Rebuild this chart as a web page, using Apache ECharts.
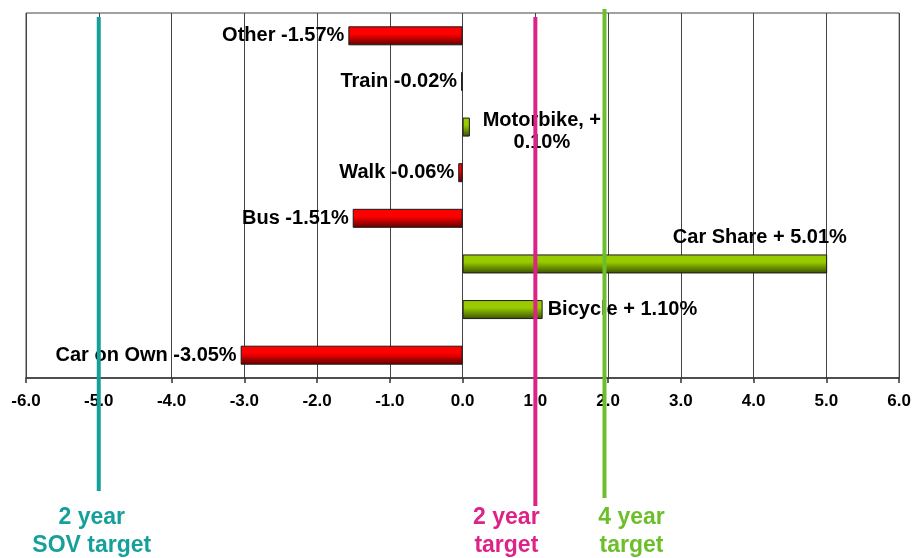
<!DOCTYPE html>
<html>
<head>
<meta charset="utf-8">
<script src="https://cdn.jsdelivr.net/npm/echarts@6/dist/echarts.min.js"></script>
<style>html,body{margin:0;padding:0;background:#fff}#c{width:914px;height:558px}</style>
</head>
<body>
<div id="c"></div>
<script>
var categories = ['Other', 'Train', 'Motorbike', 'Walk', 'Bus', 'Car Share', 'Bicycle', 'Car on Own'];
var changes = [-1.57, -0.02, 0.10, -0.06, -1.51, 5.01, 1.10, -3.05];
var barLabels = ['Other -1.57%', 'Train -0.02%', 'Motorbike, +\n0.10%', 'Walk -0.06%', 'Bus -1.51%', 'Car Share + 5.01%', 'Bicycle + 1.10%', 'Car on Own -3.05%'];
var xTicks = [-6, -5, -4, -3, -2, -1, 0, 1, 2, 3, 4, 5, 6];
var targetValues = [-5.0, 1.0, 1.95];
var targetLabels = ['2 year\nSOV target', '2 year\ntarget', '4 year\ntarget'];

// styling only
var targetStyles = [
  {color: '#16a09c', top: 17, bottom: 491, dx: -7},
  {color: '#dd2288', top: 17, bottom: 506, dx: -29},
  {color: '#6cbf2a', top: 9, bottom: 498, dx: 27}
];
var labelStyles = {
  'Motorbike': {position: 'right', align: 'center', distance: 5, offset: [67, 4], lineHeight: 22},
  'Car Share': {position: 'top', distance: 4, offset: [115, -3]},
  'Bicycle': {position: 'right', distance: 5}
};

function grad(top, bottom) {
  return {type: 'linear', x: 0, y: 0, x2: 0, y2: 1,
    colorStops: [{offset: 0, color: top}, {offset: 0.4, color: top}, {offset: 1, color: bottom}]};
}

var barData = changes.map(function (v, i) {
  var neg = v < 0;
  var ls = labelStyles[categories[i]] || {position: neg ? 'left' : 'right', distance: 4};
  return {
    value: v,
    itemStyle: {
      color: neg ? grad('#ff0000', '#600000') : grad('#99cc00', '#385000'),
      borderColor: '#1a1a1a', borderWidth: 1
    },
    label: Object.assign({show: true, formatter: barLabels[i]}, ls)
  };
});

var chart = echarts.init(document.getElementById('c'));
chart.setOption({
  animation: false,
  backgroundColor: '#fff',
  grid: {left: 26, right: 11, top: 13, bottom: 180, show: true, borderColor: '#444', borderWidth: 1, containLabel: false},
  xAxis: {
    type: 'value', min: xTicks[0], max: xTicks[xTicks.length - 1], interval: 1,
    axisLine: {show: true, lineStyle: {color: '#333', width: 1.5}},
    axisTick: {show: true, length: 5, lineStyle: {color: '#333', width: 1.5}},
    splitLine: {show: true, lineStyle: {color: '#444', width: 1}},
    axisLabel: {
      margin: 15, color: '#000', fontFamily: 'Liberation Sans', fontWeight: 'bold', fontSize: 17,
      formatter: function (v) { return v.toFixed(1); }
    }
  },
  yAxis: {
    type: 'category', data: categories, inverse: true,
    axisLine: {show: false}, axisTick: {show: false}, axisLabel: {show: false}, splitLine: {show: false}
  },
  series: [
    {
      type: 'bar', data: barData, barWidth: 19, z: 2,
      label: {color: '#000', fontFamily: 'Liberation Sans', fontWeight: 'bold', fontSize: 20}
    },
    {
      type: 'custom', z: 10, clip: false,
      data: targetValues.map(function (v, i) { return [v, 0, i]; }),
      encode: {x: 0, y: 1},
      renderItem: function (params, api) {
        var i = api.value(2);
        var x = api.coord([api.value(0), 0])[0];
        var s = targetStyles[i];
        return {
          type: 'group',
          children: [
            {type: 'line', shape: {x1: x, y1: s.top, x2: x, y2: s.bottom},
              style: {stroke: s.color, lineWidth: 4}},
            {type: 'text', x: x + s.dx, y: 532,
              style: {text: targetLabels[i], fill: s.color, font: 'bold 23px "Liberation Sans"',
                align: 'center', verticalAlign: 'middle', lineHeight: 28}}
          ]
        };
      }
    }
  ]
});
</script>
</body>
</html>
